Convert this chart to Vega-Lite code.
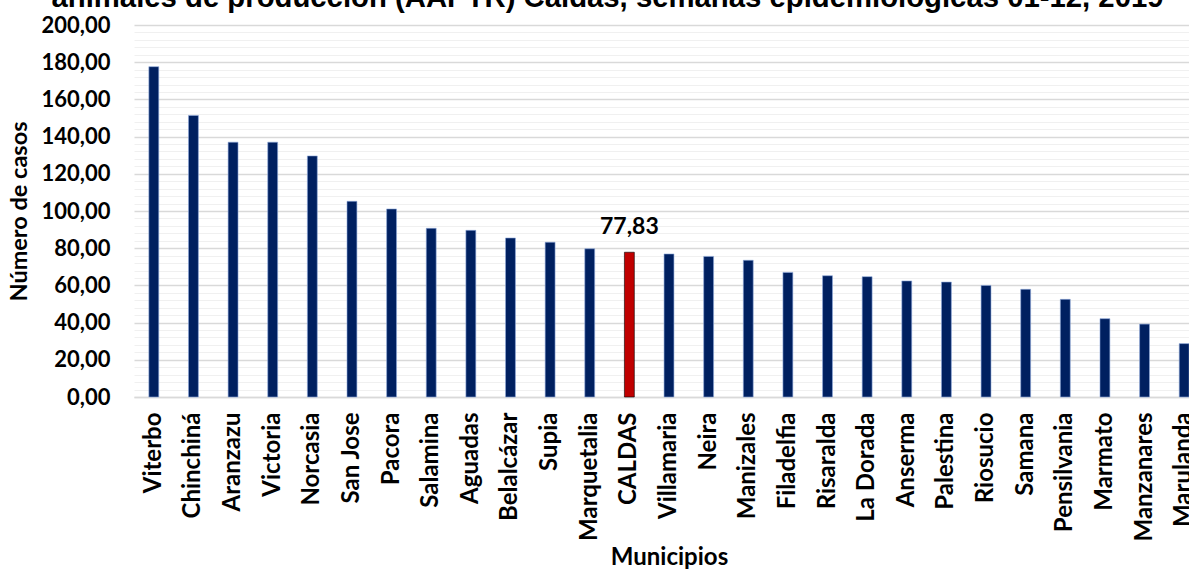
{
  "$schema": "https://vega.github.io/schema/vega-lite/v6.json",
  "autosize": {"type": "none"},
  "padding": {"left": 134, "top": 25, "right": 0, "bottom": 176},
  "width": 1055,
  "height": 372,
  "background": "white",
  "title": {
    "text": "animales de producción (AAPTR) Caldas, semanas epidemiológicas 01-12, 2019",
    "font": "Liberation Sans",
    "fontSize": 29.3,
    "fontWeight": "bold",
    "color": "#000000",
    "anchor": "middle",
    "frame": "group",
    "baseline": "alphabetic",
    "offset": -22,
    "dx": -54
  },
  "data": {
    "values": [
      {"municipio": "Viterbo", "casos": 177.6},
      {"municipio": "Chinchiná", "casos": 151.4},
      {"municipio": "Aranzazu", "casos": 137.0},
      {"municipio": "Victoria", "casos": 137.0},
      {"municipio": "Norcasia", "casos": 129.6},
      {"municipio": "San Jose", "casos": 105.2},
      {"municipio": "Pacora", "casos": 101.1},
      {"municipio": "Salamina", "casos": 90.7},
      {"municipio": "Aguadas", "casos": 89.6},
      {"municipio": "Belalcázar", "casos": 85.5},
      {"municipio": "Supia", "casos": 83.2},
      {"municipio": "Marquetalia", "casos": 79.7},
      {"municipio": "CALDAS", "casos": 77.83},
      {"municipio": "Villamaria", "casos": 76.9},
      {"municipio": "Neira", "casos": 75.6},
      {"municipio": "Manizales", "casos": 73.5},
      {"municipio": "Filadelfia", "casos": 67.0},
      {"municipio": "Risaralda", "casos": 65.2},
      {"municipio": "La Dorada", "casos": 64.7},
      {"municipio": "Anserma", "casos": 62.4},
      {"municipio": "Palestina", "casos": 61.8},
      {"municipio": "Riosucio", "casos": 60.0},
      {"municipio": "Samana", "casos": 57.9},
      {"municipio": "Pensilvania", "casos": 52.5},
      {"municipio": "Marmato", "casos": 42.1},
      {"municipio": "Manzanares", "casos": 39.2},
      {"municipio": "Marulanda", "casos": 28.7}
    ]
  },
  "encoding": {
    "x": {
      "field": "municipio",
      "type": "nominal",
      "sort": null,
      "scale": {"range": [0, 1070], "paddingInner": 0.75, "paddingOuter": 0.375},
      "axis": {
        "title": "Municipios",
        "labelAngle": -90,
        "labelAlign": "right",
        "labelBaseline": "middle",
        "labelPadding": 15,
        "labelFontSize": 24,
        "labelOverlap": false,
        "labelLimit": 0,
        "ticks": false,
        "grid": false,
        "domainColor": "#d9d9d9",
        "domainWidth": 1.5,
        "titleFontSize": 24,
        "titlePadding": 5
      }
    },
    "y": {
      "field": "casos",
      "type": "quantitative",
      "scale": {"domain": [0, 200], "nice": false},
      "axis": {
        "title": "Número de casos",
        "values": [0,4,8,12,16,20,24,28,32,36,40,44,48,52,56,60,64,68,72,76,80,84,88,92,96,100,104,108,112,116,120,124,128,132,136,140,144,148,152,156,160,164,168,172,176,180,184,188,192,196,200],
        "format": ".2f",
        "labelExpr": "datum.value % 20 === 0 ? datum.label : ''",
        "ticks": false,
        "domain": false,
        "labelPadding": 24,
        "labelFontSize": 22,
        "titleFontSize": 23.5,
        "titlePadding": 10,
        "gridColor": {"condition": {"test": "datum.value % 20 === 0", "value": "#d9d9d9"}, "value": "#f0f0f0"},
        "gridWidth": {"condition": {"test": "datum.value % 20 === 0", "value": 1.5}, "value": 1}
      }
    }
  },
  "layer": [
    {
      "mark": {"type": "bar"},
      "encoding": {
        "color": {"condition": {"test": "datum.municipio === 'CALDAS'", "value": "#C00000"}, "value": "#002060"},
        "stroke": {"condition": {"test": "datum.municipio === 'CALDAS'", "value": "#000000"}, "value": "#8EA9DB"},
        "strokeWidth": {"value": 0.6}
      }
    },
    {
      "transform": [{"filter": "datum.municipio === 'CALDAS'"}],
      "mark": {"type": "text", "dy": -25, "font": "Lato", "fontSize": 23, "fontWeight": "bold", "color": "#000000"},
      "encoding": {
        "text": {"field": "casos", "type": "quantitative", "format": ".2f"}
      }
    }
  ],
  "config": {
    "locale": {"number": {"decimal": ",", "thousands": ".", "grouping": [3], "currency": ["$", ""]}},
    "view": {"stroke": null},
    "axis": {
      "labelFont": "Lato",
      "labelFontWeight": "bold",
      "labelColor": "#000000",
      "titleFont": "Lato",
      "titleFontWeight": "bold",
      "titleColor": "#000000"
    }
  }
}
